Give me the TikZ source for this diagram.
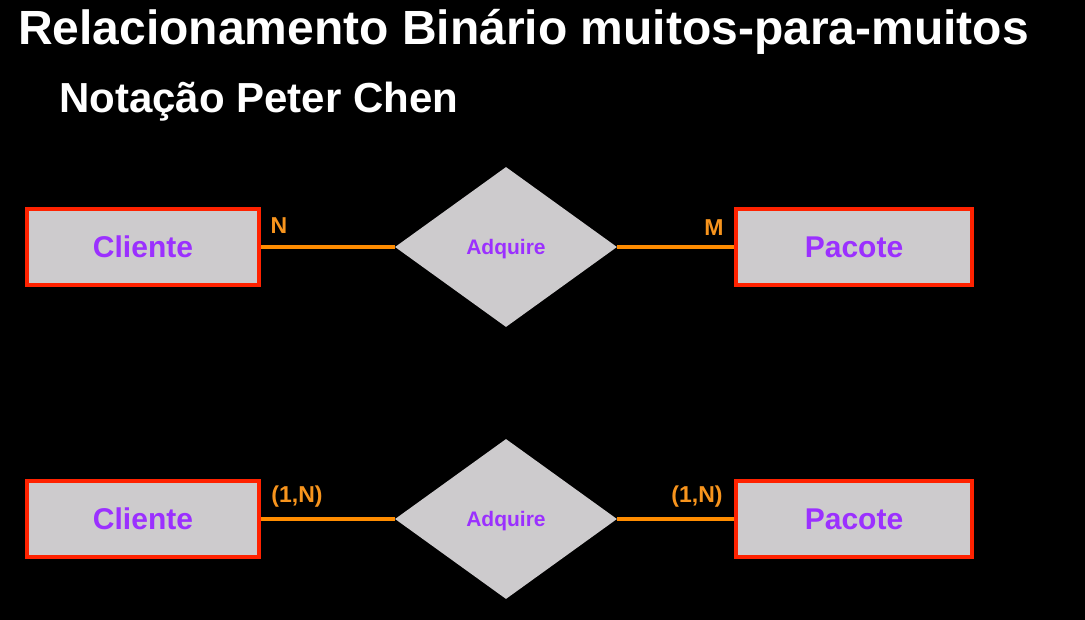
\documentclass[tikz,border=0pt]{standalone}
\usepackage{fontspec}
\setmainfont{Liberation Sans}
\usetikzlibrary{shapes.geometric}
\definecolor{boxgray}{HTML}{CDCBCD}
\definecolor{boxred}{HTML}{FF2200}
\definecolor{txtpurple}{HTML}{9B30FF}
\definecolor{lineorange}{HTML}{FF8C00}
\definecolor{lblorange}{HTML}{F7941D}
\tikzset{
  entity/.style={draw=boxred, line width=4pt, fill=boxgray, minimum height=76pt, inner sep=0pt,
    font=\fontsize{30}{34}\selectfont\bfseries, text=txtpurple},
  relbox/.style={diamond, fill=boxgray, minimum width=222pt, minimum height=160pt, inner sep=0pt, aspect=1.39,
    text depth=0pt, font=\fontsize{21}{24}\selectfont\bfseries, text=txtpurple},
  link/.style={draw=lineorange, line width=3.5pt},
  card/.style={font=\fontsize{23}{26}\selectfont\bfseries, text=lblorange, inner sep=0pt}
}
\begin{document}
\begin{tikzpicture}[x=1pt,y=-1pt]
\fill[black] (0,0) rectangle (1085,620);
\useasboundingbox (0,0) rectangle (1085,620);
\node[anchor=west, text=white, font=\fontsize{48}{54}\selectfont\bfseries, inner sep=0pt] (title) at (18,32) {Relacionamento Binário muitos-para-muitos};
\node[anchor=west, text=white, font=\fontsize{42}{48}\selectfont\bfseries, inner sep=0pt] (subtitle) at (59,102) {Notação Peter Chen};
% top row
\node[entity, minimum width=232pt] (c1) at (143,247) {Cliente};
\node[entity, minimum width=236pt] (p1) at (854,247) {Pacote};
\node[relbox] (r1) at (506,247) {Adquire};
\draw[link] (c1.east) -- (r1.west);
\draw[link] (r1.east) -- (p1.west);
\node[card] (n1) at (279,226) {N};
\node[card] (m1) at (714,228) {M};
% bottom row
\node[entity, minimum width=232pt] (c2) at (143,519) {Cliente};
\node[entity, minimum width=236pt] (p2) at (854,519) {Pacote};
\node[relbox] (r2) at (506,519) {Adquire};
\draw[link] (c2.east) -- (r2.west);
\draw[link] (r2.east) -- (p2.west);
\node[card] (n2) at (297,497) {(1,N)};
\node[card] (m2) at (697,497) {(1,N)};
\end{tikzpicture}
\end{document}
